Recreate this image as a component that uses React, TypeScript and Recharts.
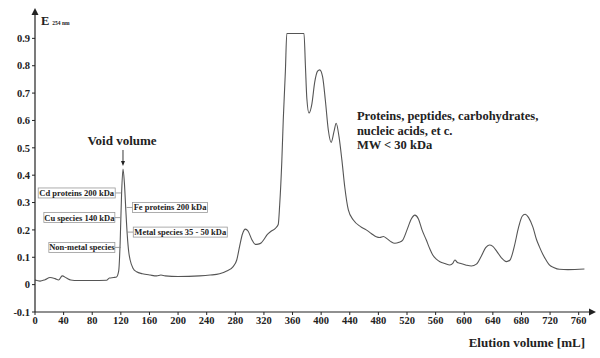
import { LineChart, Line, XAxis, YAxis, ReferenceDot } from 'recharts';

// Elution volume [mL] and absorbance
const volume = [
  0, 7, 14, 21, 28, 33, 38, 44, 50, 60, 80, 100, 104, 110, 114, 117, 119, 121, 123, 125,
  127, 129, 131, 133, 137, 142, 150, 161, 170, 176, 182, 200, 230, 245, 258, 268, 277, 282, 286, 290,
  294, 298, 303, 308, 312, 316, 320, 324, 330, 336, 340, 342, 345, 347, 350, 352, 376, 378, 380, 383,
  387, 391, 395, 398, 402, 406, 410, 414, 418, 421, 425, 429, 433, 438, 445, 455, 463, 470, 477, 482,
  487, 492, 497, 503, 509, 514, 520, 526, 531, 536, 541, 547, 552, 556, 561, 566, 573, 580, 584, 587,
  590, 594, 602, 610, 617, 624, 630, 635, 640, 646, 652, 659, 664, 670, 676, 681, 685, 690, 696, 701,
  705, 710, 715, 719, 725, 733, 745, 768,
];
const absorbance = [
  0.017, 0.013, 0.018, 0.026, 0.022, 0.017, 0.032, 0.024, 0.017, 0.015, 0.015, 0.016, 0.024, 0.026, 0.028, 0.05, 0.15, 0.33, 0.422, 0.37,
  0.27, 0.18, 0.12, 0.09, 0.06, 0.047, 0.04, 0.035, 0.032, 0.035, 0.032, 0.03, 0.032, 0.035, 0.04, 0.05, 0.066, 0.09, 0.14, 0.185,
  0.203, 0.195, 0.165, 0.147, 0.148, 0.152, 0.165, 0.181, 0.195, 0.206, 0.22, 0.29, 0.45, 0.6, 0.78, 0.918, 0.918, 0.8, 0.68, 0.627,
  0.66, 0.74, 0.78, 0.785, 0.76, 0.67, 0.565, 0.52, 0.56, 0.59, 0.54, 0.455, 0.357, 0.273, 0.236, 0.212, 0.2, 0.187, 0.175, 0.172,
  0.176, 0.168, 0.158, 0.151, 0.155, 0.163, 0.2, 0.24, 0.254, 0.24, 0.2, 0.163, 0.13, 0.108, 0.093, 0.084, 0.077, 0.072, 0.078, 0.09,
  0.082, 0.078, 0.072, 0.068, 0.075, 0.105, 0.135, 0.145, 0.14, 0.12, 0.098, 0.084, 0.09, 0.14, 0.21, 0.25, 0.257, 0.245, 0.21, 0.165,
  0.139, 0.11, 0.087, 0.072, 0.063, 0.056, 0.055, 0.057,
];

const xTicks = [0, 40, 80, 120, 160, 200, 240, 280, 320, 360, 400, 440, 480, 520, 560, 600, 640, 680, 720, 760];
const yTicks = [-0.1, 0, 0.1, 0.2, 0.3, 0.4, 0.5, 0.6, 0.7, 0.8, 0.9];

const leftLabels = ['Cd proteins 200 kDa', 'Cu species 140 kDa', 'Non-metal species'];
const rightLabels = ['Fe proteins 200 kDa', 'Metal species 35 - 50 kDa'];
const groupText = ['Proteins, peptides, carbohydrates,', 'nucleic acids, et c.', 'MW < 30 kDa'];

const data = volume.map((v, i) => ({ v, e: absorbance[i] }));

const FONT = '"Liberation Serif", "Times New Roman", serif';
const INK = '#222';

// boxed side label, anchored at the end of its connector
function boxLabel(text: string, side: 'left' | 'right', boxW: number) {
  return (p: any) => {
    const { cx, cy } = p;
    const gap = 6;
    const x0 = side === 'left' ? cx - gap - boxW : cx + gap;
    return (
      <g>
        <line x1={cx} y1={cy} x2={side === 'left' ? cx - gap : cx + gap} y2={cy} stroke="#888" strokeWidth={0.8} />
        <rect x={x0} y={cy - 5} width={boxW} height={10} fill="#fff" stroke="#999" strokeWidth={0.8} />
        <text x={x0 + boxW / 2} y={cy + 3} textAnchor="middle" fontFamily={FONT} fontWeight="bold" fontSize={8.5} fill={INK}>
          {text}
        </text>
      </g>
    );
  };
}

export default function App() {
  return (
    <div style={{ width: 600, height: 358, background: '#fff' }}>
      <style>{'body{margin:0}'}</style>
      <LineChart width={600} height={358} data={data} margin={{ top: 11, right: 7, left: 0, bottom: 0 }}>
        <XAxis
          dataKey="v"
          type="number"
          domain={[0, 780]}
          ticks={xTicks}
          height={46}
          tickSize={3}
          axisLine={{ stroke: INK, strokeWidth: 1.2 }}
          tickLine={{ stroke: INK }}
          tick={{ fontFamily: FONT, fontWeight: 'bold', fontSize: 10.5, fill: INK }}
        />
        <YAxis
          type="number"
          domain={[-0.1, 1.0]}
          ticks={yTicks}
          width={35}
          tickSize={3}
          axisLine={{ stroke: INK, strokeWidth: 1.2 }}
          tickLine={{ stroke: INK }}
          tick={{ fontFamily: FONT, fontWeight: 'bold', fontSize: 10.5, fill: INK }}
          tickFormatter={(t: number) => (t === 0 ? '0' : String(t))}
        />
        <Line
          dataKey="e"
          type="monotone"
          stroke="#555"
          strokeWidth={1.1}
          dot={false}
          isAnimationActive={false}
        />

        {/* axis arrowheads */}
        <ReferenceDot x={780} y={-0.1} ifOverflow="visible" shape={(p: any) => (
          <g>
            <path d={`M ${p.cx - 4} ${p.cy - 3.5} L ${p.cx + 3} ${p.cy} L ${p.cx - 4} ${p.cy + 3.5} Z`} fill={INK} />
            <text x={p.cx - 8} y={p.cy + 35} textAnchor="end" fontFamily={FONT} fontWeight="bold" fontSize={13} fill={INK}>
              Elution volume [mL]
            </text>
          </g>
        )} />
        <ReferenceDot x={0} y={1.0} ifOverflow="visible" shape={(p: any) => (
          <g>
            <path d={`M ${p.cx - 3.5} ${p.cy + 4} L ${p.cx} ${p.cy - 3} L ${p.cx + 3.5} ${p.cy + 4} Z`} fill={INK} />
            <text x={p.cx + 6} y={p.cy + 14} fontFamily={FONT} fontWeight="bold" fill={INK}>
              <tspan fontSize={12.5}>E</tspan>
              <tspan fontSize={5.5} dx={3}>254 nm</tspan>
            </text>
          </g>
        )} />

        {/* void volume marker */}
        <ReferenceDot x={123} y={0.43} ifOverflow="visible" shape={(p: any) => (
          <g>
            <line x1={p.cx} y1={p.cy - 17} x2={p.cx} y2={p.cy - 5} stroke={INK} strokeWidth={0.9} />
            <path d={`M ${p.cx - 2} ${p.cy - 6} L ${p.cx} ${p.cy - 1} L ${p.cx + 2} ${p.cy - 6} Z`} fill={INK} />
            <text x={p.cx - 1} y={p.cy - 22} textAnchor="middle" fontFamily={FONT} fontWeight="bold" fontSize={13} fill={INK}>
              Void volume
            </text>
          </g>
        )} />

        <ReferenceDot x={120.5} y={0.335} ifOverflow="visible" shape={boxLabel(leftLabels[0], 'left', 77)} />
        <ReferenceDot x={120} y={0.245} ifOverflow="visible" shape={boxLabel(leftLabels[1], 'left', 71)} />
        <ReferenceDot x={120} y={0.136} ifOverflow="visible" shape={boxLabel(leftLabels[2], 'left', 66)} />
        <ReferenceDot x={128} y={0.282} ifOverflow="visible" shape={boxLabel(rightLabels[0], 'right', 75)} />
        <ReferenceDot x={129} y={0.192} ifOverflow="visible" shape={boxLabel(rightLabels[1], 'right', 94)} />

        {/* low molecular weight fraction note */}
        <ReferenceDot x={450} y={0.6} ifOverflow="visible" shape={(p: any) => (
          <text x={p.cx} y={p.cy} fontFamily={FONT} fontWeight="bold" fontSize={12.5} fill={INK}>
            {groupText.map((t, i) => (
              <tspan key={i} x={p.cx} dy={i === 0 ? 0 : 14.5}>{t}</tspan>
            ))}
          </text>
        )} />
      </LineChart>
    </div>
  );
}
